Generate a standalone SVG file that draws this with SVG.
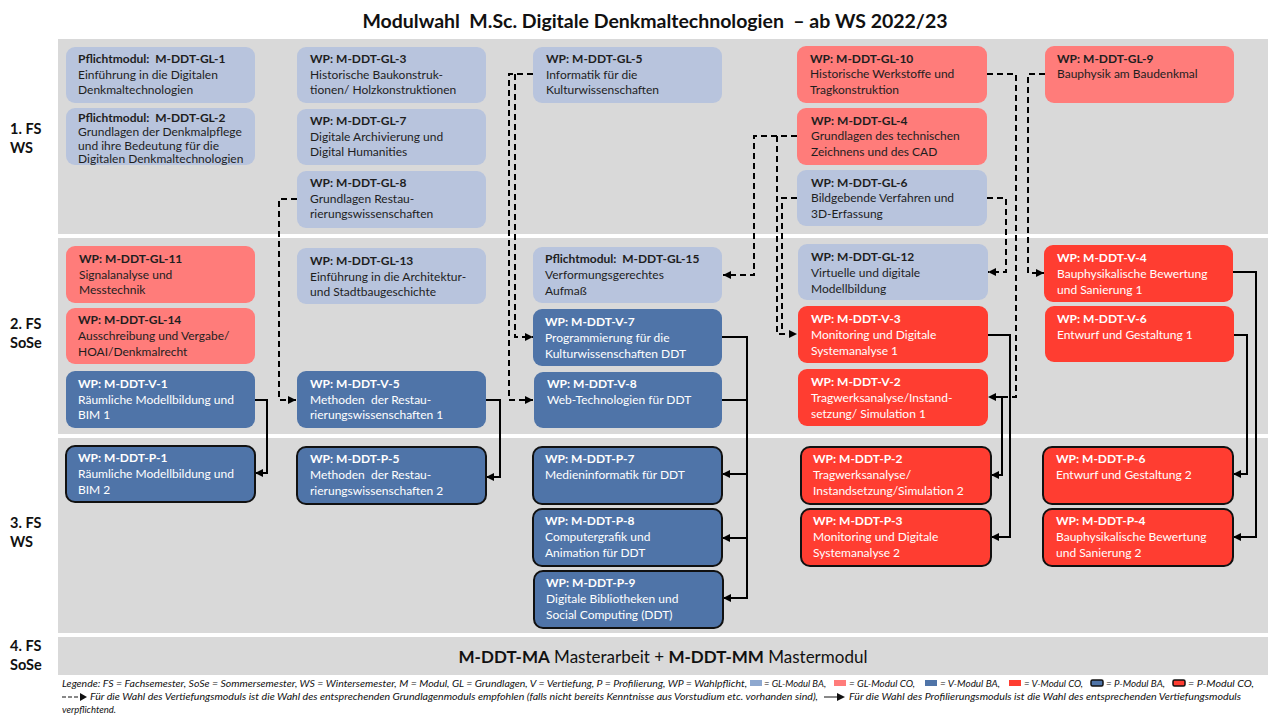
<svg xmlns="http://www.w3.org/2000/svg" width="1280" height="720" viewBox="0 0 1280 720">
<style>
text{white-space:pre}
.band{fill:#d9d9d9}
.t{font-family:Lato,"Liberation Sans",sans-serif;font-size:12px}
.b{font-weight:700}
.dk{fill:#1e1e1e}
.wt{fill:#ffffff}
.lb{fill:#b8c4dd}
.lr{fill:#ff7c7a}
.vr{fill:#ff3d31}
.db{fill:#4f74a8}
.p{stroke:#111;stroke-width:2}
.sem{font-family:Lato,"Liberation Sans",sans-serif;font-size:14.5px;font-weight:700;fill:#111}
.dash{fill:none;stroke:#000;stroke-width:2;stroke-dasharray:6 4}
.sol{fill:none;stroke:#000;stroke-width:2}
.lg{font-family:Lato,"Liberation Sans",sans-serif;font-size:9.5px;font-style:italic;fill:#111}
</style>
<defs>
<marker id="ah" viewBox="0 0 10 10" refX="10" refY="5" markerWidth="9" markerHeight="8" markerUnits="userSpaceOnUse" orient="auto"><path d="M0,0 L10,5 L0,10 z" fill="#000"/></marker>
</defs>
<rect width="1280" height="720" fill="#ffffff"/>
<text x="655" y="28" text-anchor="middle" font-family="Lato,'Liberation Sans',sans-serif" font-size="19.5" font-weight="700" fill="#111" textLength="585" lengthAdjust="spacing">Modulwahl  M.Sc. Digitale Denkmaltechnologien  – ab WS 2022/23</text>

<g id="bands">
<rect class="band" x="58" y="39" width="1210" height="195"/>
<rect class="band" x="58" y="238" width="1210" height="196"/>
<rect class="band" x="58" y="438" width="1210" height="195"/>
<rect class="band" x="58" y="637" width="1210" height="38"/>
<text class="sem" x="10" y="134">1. FS</text><text class="sem" x="10" y="153">WS</text>
<text class="sem" x="10" y="329">2. FS</text><text class="sem" x="10" y="348">SoSe</text>
<text class="sem" x="10" y="528">3. FS</text><text class="sem" x="10" y="547">WS</text>
<text class="sem" x="10" y="651">4. FS</text><text class="sem" x="10" y="670">SoSe</text>
<text x="663" y="663" text-anchor="middle" font-family="Lato,'Liberation Sans',sans-serif" font-size="17" fill="#111"><tspan font-weight="700">M-DDT-MA</tspan> Masterarbeit + <tspan font-weight="700">M-DDT-MM</tspan> Mastermodul</text>
</g>

<g id="connectors">
<path class="dash" d="M297,199 H279 V400 H296" marker-end="url(#ah)"/>
<path class="dash" d="M533,74 H509 V400 H533" marker-end="url(#ah)"/>
<path class="dash" d="M515,74 V337 H533" marker-end="url(#ah)"/>
<path class="dash" d="M797,136 H754 V275 H723" marker-end="url(#ah)"/>
<path class="dash" d="M777,136 V334 H797" marker-end="url(#ah)"/>
<path class="dash" d="M797,198 H782 V334"/>
<path class="dash" d="M987,198 H1006 V272 H988" marker-end="url(#ah)"/>
<path class="dash" d="M987,74 H1016 V397 H988" marker-end="url(#ah)"/>
<path class="dash" d="M1045,74 H1028 V273 H1044" marker-end="url(#ah)"/>
<path class="sol" d="M255,400 H267 V473 H255" marker-end="url(#ah)"/>
<path class="sol" d="M485,400 H500 V477 H486" marker-end="url(#ah)"/>
<path class="sol" d="M722,337 H747 V474 H722" marker-end="url(#ah)"/>
<path class="sol" d="M747,474 V538 H722" marker-end="url(#ah)"/>
<path class="sol" d="M747,538 V598 H723" marker-end="url(#ah)"/>
<path class="sol" d="M722,400 H747"/>
<path class="sol" d="M988,335 H1010 V537 H991" marker-end="url(#ah)"/>
<path class="sol" d="M996,397 H1002 V475 H991" marker-end="url(#ah)"/>
<path class="sol" d="M1233,272 H1256 V537 H1233" marker-end="url(#ah)"/>
<path class="sol" d="M1234,335 H1247 V474 H1233" marker-end="url(#ah)"/>
</g>

<g id="GL-1"><rect class="lb" x="66" y="47" width="189" height="56" rx="9"/>
<text class="t b dk" x="78" y="63">Pflichtmodul:  M-DDT-GL-1</text>
<text class="t dk" x="78" y="79">Einführung in die Digitalen</text>
<text class="t dk" x="78" y="94">Denkmaltechnologien</text></g>

<g id="GL-2"><rect class="lb" x="66" y="108" width="189" height="57" rx="9"/>
<text class="t b dk" x="78" y="122">Pflichtmodul:  M-DDT-GL-2</text>
<text class="t dk" x="78" y="136">Grundlagen der Denkmalpflege</text>
<text class="t dk" x="78" y="150">und ihre Bedeutung für die</text>
<text class="t dk" x="78" y="163">Digitalen Denkmaltechnologien</text></g>

<g id="GL-3"><rect class="lb" x="297" y="47" width="189" height="56" rx="9"/>
<text class="t b dk" x="310" y="63">WP: M-DDT-GL-3</text>
<text class="t dk" x="310" y="79">Historische Baukonstruk-</text>
<text class="t dk" x="310" y="94">tionen/ Holzkonstruktionen</text></g>

<g id="GL-7"><rect class="lb" x="297" y="109" width="189" height="56" rx="9"/>
<text class="t b dk" x="310" y="125">WP: M-DDT-GL-7</text>
<text class="t dk" x="310" y="141">Digitale Archivierung und</text>
<text class="t dk" x="310" y="156">Digital Humanities</text></g>

<g id="GL-8"><rect class="lb" x="297" y="171" width="189" height="57" rx="9"/>
<text class="t b dk" x="310" y="187">WP: M-DDT-GL-8</text>
<text class="t dk" x="310" y="203">Grundlagen Restau-</text>
<text class="t dk" x="310" y="218">rierungswissenschaften</text></g>

<g id="GL-5"><rect class="lb" x="533" y="47" width="189" height="56" rx="9"/>
<text class="t b dk" x="546" y="63">WP: M-DDT-GL-5</text>
<text class="t dk" x="546" y="79">Informatik für die</text>
<text class="t dk" x="546" y="94">Kulturwissenschaften</text></g>

<g id="GL-10"><rect class="lr" x="797" y="46" width="190" height="57" rx="9"/>
<text class="t b dk" x="810" y="63">WP: M-DDT-GL-10</text>
<text class="t dk" x="810" y="78">Historische Werkstoffe und</text>
<text class="t dk" x="810" y="94">Tragkonstruktion</text></g>

<g id="GL-4"><rect class="lr" x="797" y="108" width="190" height="57" rx="9"/>
<text class="t b dk" x="811" y="125">WP: M-DDT-GL-4</text>
<text class="t dk" x="811" y="140">Grundlagen des technischen</text>
<text class="t dk" x="811" y="156">Zeichnens und des CAD</text></g>

<g id="GL-6"><rect class="lb" x="797" y="170" width="190" height="56" rx="9"/>
<text class="t b dk" x="811" y="187">WP: M-DDT-GL-6</text>
<text class="t dk" x="811" y="202">Bildgebende Verfahren und</text>
<text class="t dk" x="811" y="218">3D-Erfassung</text></g>

<g id="GL-9"><rect class="lr" x="1045" y="46" width="189" height="57" rx="9"/>
<text class="t b dk" x="1057" y="63">WP: M-DDT-GL-9</text>
<text class="t dk" x="1057" y="78">Bauphysik am Baudenkmal</text></g>

<g id="GL-11"><rect class="lr" x="66" y="246" width="189" height="57" rx="9"/>
<text class="t b dk" x="79" y="263">WP: M-DDT-GL-11</text>
<text class="t dk" x="79" y="279">Signalanalyse und</text>
<text class="t dk" x="79" y="294">Messtechnik</text></g>

<g id="GL-14"><rect class="lr" x="66" y="308" width="189" height="56" rx="9"/>
<text class="t b dk" x="78" y="324">WP: M-DDT-GL-14</text>
<text class="t dk" x="78" y="340">Ausschreibung und Vergabe/</text>
<text class="t dk" x="78" y="356">HOAI/Denkmalrecht</text></g>

<g id="V-1"><rect class="db" x="66" y="371" width="189" height="57" rx="9"/>
<text class="t b wt" x="78" y="388">WP: M-DDT-V-1</text>
<text class="t wt" x="78" y="404">Räumliche Modellbildung und</text>
<text class="t wt" x="78" y="419">BIM 1</text></g>

<g id="GL-13"><rect class="lb" x="297" y="248" width="189" height="56" rx="9"/>
<text class="t b dk" x="310" y="265">WP: M-DDT-GL-13</text>
<text class="t dk" x="310" y="281">Einführung in die Architektur-</text>
<text class="t dk" x="310" y="296">und Stadtbaugeschichte</text></g>

<g id="V-5"><rect class="db" x="297" y="371" width="189" height="57" rx="9"/>
<text class="t b wt" x="310" y="388">WP: M-DDT-V-5</text>
<text class="t wt" x="310" y="404">Methoden  der Restau-</text>
<text class="t wt" x="310" y="419">rierungswissenschaften 1</text></g>

<g id="GL-15"><rect class="lb" x="533" y="247" width="189" height="56" rx="9"/>
<text class="t b dk" x="545" y="263">Pflichtmodul:  M-DDT-GL-15</text>
<text class="t dk" x="545" y="279">Verformungsgerechtes</text>
<text class="t dk" x="545" y="295">Aufmaß</text></g>

<g id="V-7"><rect class="db" x="533" y="309" width="189" height="57" rx="9"/>
<text class="t b wt" x="545" y="326">WP: M-DDT-V-7</text>
<text class="t wt" x="545" y="342">Programmierung für die</text>
<text class="t wt" x="545" y="358">Kulturwissenschaften DDT</text></g>

<g id="V-8"><rect class="db" x="534" y="372" width="188" height="56" rx="9"/>
<text class="t b wt" x="547" y="388">WP: M-DDT-V-8</text>
<text class="t wt" x="547" y="404">Web-Technologien für DDT</text></g>

<g id="GL-12"><rect class="lb" x="798" y="244" width="190" height="56" rx="9"/>
<text class="t b dk" x="811" y="261">WP: M-DDT-GL-12</text>
<text class="t dk" x="811" y="277">Virtuelle und digitale</text>
<text class="t dk" x="811" y="293">Modellbildung</text></g>

<g id="V-3"><rect class="vr" x="798" y="306" width="190" height="57" rx="9"/>
<text class="t b wt" x="811" y="323">WP: M-DDT-V-3</text>
<text class="t wt" x="811" y="339">Monitoring und Digitale</text>
<text class="t wt" x="811" y="355">Systemanalyse 1</text></g>

<g id="V-2"><rect class="vr" x="798" y="369" width="190" height="57" rx="9"/>
<text class="t b wt" x="811" y="386">WP: M-DDT-V-2</text>
<text class="t wt" x="811" y="402">Tragwerksanalyse/Instand-</text>
<text class="t wt" x="811" y="418">setzung/ Simulation 1</text></g>

<g id="V-4"><rect class="vr" x="1044" y="245" width="189" height="57" rx="9"/>
<text class="t b wt" x="1057" y="262">WP: M-DDT-V-4</text>
<text class="t wt" x="1057" y="278">Bauphysikalische Bewertung</text>
<text class="t wt" x="1057" y="294">und Sanierung 1</text></g>

<g id="V-6"><rect class="vr" x="1045" y="306" width="189" height="56" rx="9"/>
<text class="t b wt" x="1057" y="323">WP: M-DDT-V-6</text>
<text class="t wt" x="1057" y="339">Entwurf und Gestaltung 1</text></g>

<g id="P-1"><rect class="db p" x="66" y="446" width="189" height="56" rx="9"/>
<text class="t b wt" x="78" y="462">WP: M-DDT-P-1</text>
<text class="t wt" x="78" y="478">Räumliche Modellbildung und</text>
<text class="t wt" x="78" y="494">BIM 2</text></g>

<g id="P-5"><rect class="db p" x="297" y="447" width="189" height="57" rx="9"/>
<text class="t b wt" x="310" y="463">WP: M-DDT-P-5</text>
<text class="t wt" x="310" y="479">Methoden  der Restau-</text>
<text class="t wt" x="310" y="495">rierungswissenschaften 2</text></g>

<g id="P-7"><rect class="db p" x="533" y="447" width="189" height="57" rx="9"/>
<text class="t b wt" x="545" y="463">WP: M-DDT-P-7</text>
<text class="t wt" x="545" y="479">Medieninformatik für DDT</text></g>

<g id="P-8"><rect class="db p" x="533" y="509" width="189" height="57" rx="9"/>
<text class="t b wt" x="545" y="525">WP: M-DDT-P-8</text>
<text class="t wt" x="545" y="541">Computergrafik und</text>
<text class="t wt" x="545" y="557">Animation für DDT</text></g>

<g id="P-9"><rect class="db p" x="534" y="571" width="189" height="57" rx="9"/>
<text class="t b wt" x="546" y="587">WP: M-DDT-P-9</text>
<text class="t wt" x="546" y="603">Digitale Bibliotheken und</text>
<text class="t wt" x="546" y="619">Social Computing (DDT)</text></g>

<g id="P-2"><rect class="vr p" x="801" y="447" width="190" height="57" rx="9"/>
<text class="t b wt" x="813" y="463">WP: M-DDT-P-2</text>
<text class="t wt" x="813" y="479">Tragwerksanalyse/</text>
<text class="t wt" x="813" y="495">Instandsetzung/Simulation 2</text></g>

<g id="P-3"><rect class="vr p" x="801" y="509" width="190" height="57" rx="9"/>
<text class="t b wt" x="813" y="525">WP: M-DDT-P-3</text>
<text class="t wt" x="813" y="541">Monitoring und Digitale</text>
<text class="t wt" x="813" y="557">Systemanalyse 2</text></g>

<g id="P-6"><rect class="vr p" x="1043" y="447" width="190" height="57" rx="9"/>
<text class="t b wt" x="1056" y="463">WP: M-DDT-P-6</text>
<text class="t wt" x="1056" y="479">Entwurf und Gestaltung 2</text></g>

<g id="P-4"><rect class="vr p" x="1043" y="509" width="190" height="57" rx="9"/>
<text class="t b wt" x="1056" y="525">WP: M-DDT-P-4</text>
<text class="t wt" x="1056" y="541">Bauphysikalische Bewertung</text>
<text class="t wt" x="1056" y="557">und Sanierung 2</text></g>

<g id="legend">
<text class="lg" x="62" y="687" textLength="685" lengthAdjust="spacingAndGlyphs">Legende: FS = Fachsemester, SoSe = Sommersemester, WS = Wintersemester, M = Modul, GL = Grundlagen, V = Vertiefung, P = Profilierung, WP = Wahlpflicht,</text>
<rect x="750" y="680" width="12" height="6" fill="#8ea8cf"/>
<text class="lg" x="764" y="687" textLength="62" lengthAdjust="spacingAndGlyphs">= GL-Modul BA,</text>
<rect x="834" y="680" width="12" height="6" fill="#ff7c7a"/>
<text class="lg" x="849" y="687" textLength="66" lengthAdjust="spacingAndGlyphs">= GL-Modul CO,</text>
<rect x="925" y="680" width="12" height="6" fill="#4f74a8"/>
<text class="lg" x="940" y="687" textLength="60" lengthAdjust="spacingAndGlyphs">= V-Modul BA,</text>
<rect x="1009" y="680" width="12" height="6" fill="#ff3d31"/>
<text class="lg" x="1024" y="687" textLength="59" lengthAdjust="spacingAndGlyphs">= V-Modul CO,</text>
<rect x="1091" y="680" width="12" height="6" rx="1.5" fill="#4f74a8" stroke="#111" stroke-width="1.5"/>
<text class="lg" x="1106" y="687" textLength="59" lengthAdjust="spacingAndGlyphs">= P-Modul BA,</text>
<rect x="1173" y="680" width="12" height="6" rx="1.5" fill="#ff3d31" stroke="#111" stroke-width="1.5"/>
<text class="lg" x="1188" y="687" textLength="66" lengthAdjust="spacingAndGlyphs">= P-Modul CO,</text>
<path d="M62,697 H79" fill="none" stroke="#111" stroke-width="1" stroke-dasharray="4 2"/>
<path d="M80,693 L87,697 L80,701 z" fill="#111"/>
<text class="lg" x="90" y="700" textLength="728" lengthAdjust="spacingAndGlyphs">Für die Wahl des Vertiefungsmoduls ist die Wahl des entsprechenden Grundlagenmoduls empfohlen (falls nicht bereits Kenntnisse aus Vorstudium etc. vorhanden sind),</text>
<path d="M824,697 H838" fill="none" stroke="#111" stroke-width="1"/>
<path d="M837,693 L845,697 L837,701 z" fill="#111"/>
<text class="lg" x="849" y="700" textLength="392" lengthAdjust="spacingAndGlyphs">Für die Wahl des Profilierungsmoduls ist die Wahl des entsprechenden Vertiefungsmoduls</text>
<text class="lg" x="62" y="713">verpflichtend.</text>
</g>
</svg>
